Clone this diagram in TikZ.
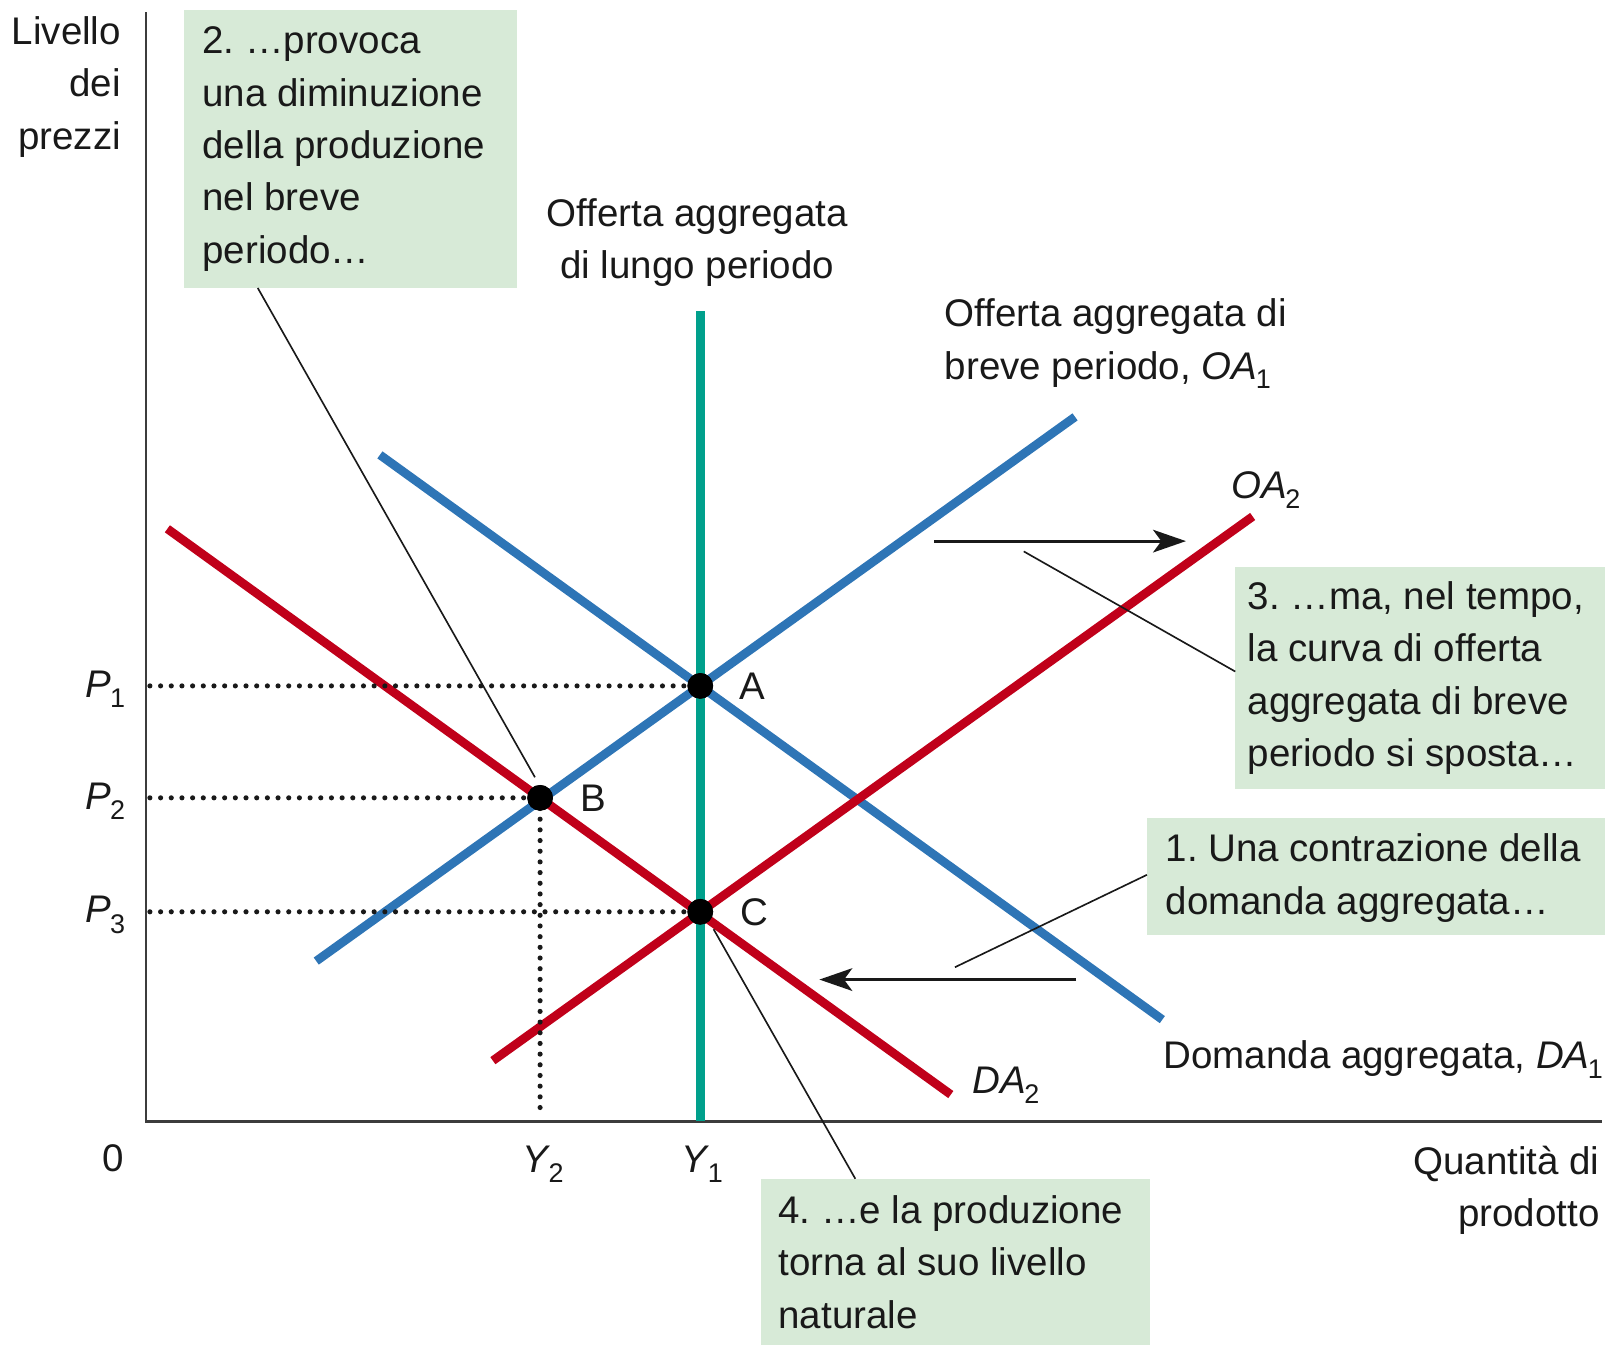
\documentclass[tikz,border=0pt]{standalone}
\usepackage{fontspec}
\setmainfont{Liberation Sans}
\usetikzlibrary{arrows.meta,calc}

\definecolor{lrasgreen}{RGB}{0,160,140}
\definecolor{curveblue}{RGB}{46,117,182}
\definecolor{curvered}{RGB}{192,0,26}
\definecolor{notefill}{RGB}{215,234,215}
\definecolor{axisgray}{RGB}{60,60,60}
\definecolor{inkblack}{RGB}{25,25,25}

% italic symbol with a small index tucked under it
\newcommand\idx[2]{\textit{#1}\kern-1.5pt\textsubscript{#2}}

\begin{document}
\begin{tikzpicture}[x=1pt,y=-1pt,
  every node/.style={font=\fontsize{37.5}{51}\selectfont, text=inkblack, inner sep=0pt},
  axisline/.style={line width=2.5pt, draw=axisgray},
  curve/.style={line width=8.5pt},
  guide/.style={line width=5pt, line cap=round, dash pattern=on 0pt off 10.4pt, draw=inkblack},
  leader/.style={line width=1.6pt, draw=inkblack},
  shiftarrow/.style={line width=3pt, draw=inkblack, -{Stealth[length=32pt,width=22pt,inset=8pt]}},
  notebox/.style={fill=notefill, draw=none, anchor=north west, minimum width=#1},
  notetext/.style={anchor=west, align=left},
  eqpoint/.style={circle, fill=black, minimum size=25pt},
]
\useasboundingbox (0,0) rectangle (1568,1310);

% explanatory boxes
\node[notebox=324pt, minimum height=270pt] (box2) at (179,10) {};
\node[notebox=360pt, minimum height=216pt] (box3) at (1203,552) {};
\node[notebox=446pt, minimum height=114pt] (box1) at (1117,796) {};
\node[notebox=379pt, minimum height=162pt] (box4) at (741,1148) {};

\node[notetext] (t2) at ($(box2.west)+(18,0)$)
  {2.\ \dots{}provoca\\una diminuzione\\della produzione\\nel breve\\periodo\dots};
\node[notetext] (t3) at ($(box3.west)+(12,0)$)
  {3.\ \dots{}ma, nel tempo,\\la curva di offerta\\aggregata di breve\\periodo si sposta\dots};
\node[notetext] (t1) at ($(box1.west)+(18,2)$)
  {1.\ Una contrazione della\\domanda aggregata\dots};
\node[notetext] (t4) at ($(box4.west)+(17,0)$)
  {4.\ \dots{}e la produzione\\torna al suo livello\\naturale};

% axes
\coordinate (ytop) at (142,12);
\coordinate (origin) at (142,1092);
\coordinate (xend) at (1560,1092);
\draw[axisline] (ytop) -- (origin) -- (xend);

\node[anchor=north east, align=right] (ylab) at (118,16) {Livello\\dei\\prezzi};
\node[anchor=north east, align=right] (xlab) at (1558,1116) {Quantità di\\prodotto};
\node (zero) at (110,1128) {0};

% curve end points
\coordinate (ad1s) at (370,443);  \coordinate (ad1e) at (1132,993);
\coordinate (oa1s) at (308,936);  \coordinate (oa1e) at (1047,406);
\coordinate (ad2s) at (163,515);  \coordinate (ad2e) at (926,1066);
\coordinate (oa2s) at (480,1033); \coordinate (oa2e) at (1220,503);
\coordinate (lrtop) at (682,303); \coordinate (lrbot) at (682,1092);

\draw[curve, draw=curveblue] (ad1s) -- (ad1e);
\draw[curve, draw=curveblue] (oa1s) -- (oa1e);
\draw[curve, draw=curvered] (ad2s) -- (ad2e);
\draw[curve, draw=curvered] (oa2s) -- (oa2e);
\draw[curve, draw=lrasgreen] (lrtop) -- (lrbot);

% equilibria
\node[eqpoint] (A) at (682,668) {};
\node[eqpoint] (B) at (526,777) {};
\node[eqpoint] (C) at (682,888) {};

\coordinate (p1) at (146,668);
\coordinate (p2) at (146,777);
\coordinate (p3) at (146,888);
\coordinate (y2) at (526,1088);
\draw[guide] (p1) -- (A.center);
\draw[guide] (p2) -- (B.center);
\draw[guide] (p3) -- (C.center);
\draw[guide] (B.center) -- (y2);

\node[eqpoint] at (A) {};
\node[eqpoint] at (B) {};
\node[eqpoint] at (C) {};

\node (Alab) at (733,668) {A};
\node (Blab) at (578,777) {B};
\node (Clab) at (735,888) {C};

\node (P1) at (103,671) {\idx{P}{1}};
\node (P2) at (103,780) {\idx{P}{2}};
\node (P3) at (103,891) {\idx{P}{3}};
\node (Y2) at (529,1134) {\idx{Y}{2}};
\node (Y1) at (684,1134) {\idx{Y}{1}};

% curve labels
\node[align=center] (lraslab) at (679,236) {Offerta aggregata\\di lungo periodo};
\node[anchor=west, align=left] (oa1lab) at (920,335) {Offerta aggregata di\\breve periodo, \idx{OA}{1}};
\node (oa2lab) at (1233,477) {\idx{OA}{2}};
\node (ad2lab) at (980,1057) {\idx{DA}{2}};
\node[anchor=west] (ad1lab) at (1133,1032) {Domanda aggregata, \idx{DA}{1}};

% shift arrows
\coordinate (sh1s) at (910,527); \coordinate (sh1e) at (1155,527);
\coordinate (sh2s) at (1048,954); \coordinate (sh2e) at (798,954);
\draw[shiftarrow] (sh1s) -- (sh1e);
\draw[shiftarrow] (sh2s) -- (sh2e);

% leader lines from the notes
\coordinate (l2end) at (521,757);
\coordinate (l3end) at (997,537);
\coordinate (l1end) at (930,942);
\coordinate (l4end) at (695,905);
\draw[leader] ($(box2.south west)+(72,0)$) -- (l2end);
\draw[leader] ($(box3.north west)+(0,102)$) -- (l3end);
\draw[leader] ($(box1.north west)+(0,56)$) -- (l1end);
\draw[leader] ($(box4.north west)+(92,0)$) -- (l4end);
\end{tikzpicture}
\end{document}
